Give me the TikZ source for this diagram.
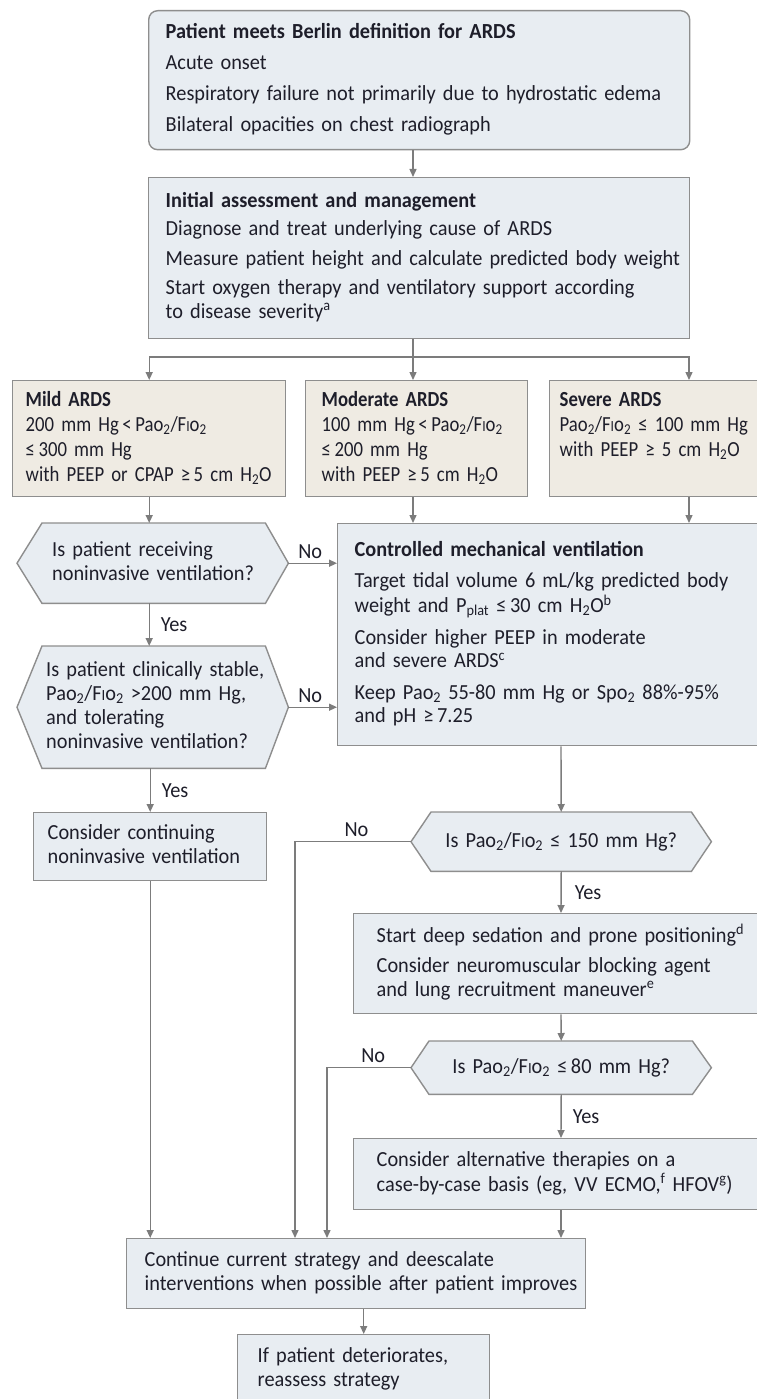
\documentclass[tikz,border=0pt]{standalone}
\usepackage{fontspec}
\setmainfont{Carlito}[FakeStretch=0.945]
\newfontfamily\tanfont{Carlito}[FakeStretch=0.87]
\usetikzlibrary{arrows.meta,backgrounds,calc}
\definecolor{boxfill}{HTML}{E8EDF2}
\definecolor{beige}{HTML}{EFEBE3}
\definecolor{edgegray}{HTML}{8E8E8E}
\definecolor{wiregray}{HTML}{7C7C7C}
\definecolor{ink}{HTML}{1E1E2A}
\newcommand\pao{Pao\textsubscript{2}}
\newcommand\fio{F{\fontsize{15.5}{15.5}\selectfont I}o\textsubscript{2}}
\newcommand\boxlines[1]{\begin{tabular}{@{}l@{}}#1\end{tabular}}
\tikzset{
  base/.style={font=\fontsize{21.5}{23.5}\selectfont, text=ink, align=left,
    anchor=north west, inner ysep=0pt, line width=1.4pt, draw=edgegray},
  bluebox/.style={base, fill=boxfill},
  tanbox/.style={base, fill=beige, font=\tanfont\fontsize{21.5}{25}\selectfont},
  hexnode/.style={font=\fontsize{21.5}{24}\selectfont, text=ink, anchor=north west,
    inner xsep=0pt, inner ysep=0pt},
  hexshape/.style={fill=boxfill, draw=edgegray, line width=1.4pt},
  arr/.style={draw=wiregray, line width=1.4pt, -{Triangle[length=8pt,width=7pt]}},
  wire/.style={draw=wiregray, line width=1.4pt},
  lbl/.style={font=\fontsize{21.5}{23.5}\selectfont, text=ink, inner sep=0pt}
}
\begin{document}
\begin{tikzpicture}[x=1pt,y=-1pt]
\useasboundingbox (0,0) rectangle (757,1399);
\clip (0,0) rectangle (757,1399);
\coordinate (xM) at (413,0);
\coordinate (xR) at (689,0);
\coordinate (xC) at (561,0);
\coordinate (xA) at (295,0);
\coordinate (xB) at (327,0);
\coordinate (br) at (413,357);

\node[bluebox, rounded corners=9pt, minimum width=541pt, minimum height=139pt,
  text width=507pt, inner xsep=17pt] (top) at (148,10)
  {\boxlines{\textbf{Patient meets Berlin definition for ARDS}\\[7.5pt]
   Acute onset\\[7.5pt]
   Respiratory failure not primarily due to hydrostatic edema\\[7.5pt]
   Bilateral opacities on chest radiograph}};

\node[bluebox, minimum width=541pt, minimum height=161pt,
  text width=507pt, inner xsep=17pt] (init) at (148,177)
  {\boxlines{\textbf{Initial assessment and management}\\[5pt]
   Diagnose and treat underlying cause of ARDS\\[6pt]
   Measure patient height and calculate predicted body weight\\[6pt]
   Start oxygen therapy and ventilatory support according\\
   to disease severity\textsuperscript{a}}};

\node[tanbox, minimum width=273pt, minimum height=116pt, text width=247pt, inner xsep=13pt] (mild) at (12,380)
  {\boxlines{\textbf{Mild ARDS}\\
   200 mm Hg\,<\,\pao/\fio\\
   ≤\,300 mm Hg\\
   with PEEP or CPAP ≥\,5 cm H\textsubscript{2}O}};

\node[tanbox, minimum width=222pt, minimum height=116pt, text width=190pt, inner xsep=16pt] (mod) at (305,380)
  {\boxlines{\textbf{Moderate ARDS}\\
   100 mm Hg\,<\,\pao/\fio\\
   ≤\,200 mm Hg\\
   with PEEP ≥\,5 cm H\textsubscript{2}O}};

\node[tanbox, minimum width=260pt, minimum height=116pt, text width=240pt, inner xsep=10pt] (sev) at (549,380)
  {\boxlines{\textbf{Severe ARDS}\\
   \pao/\fio{} ≤ 100 mm Hg\\
   with PEEP ≥ 5 cm H\textsubscript{2}O\\
   \strut}};

\node[hexnode, text width=236pt, minimum height=80pt, align=left] (h1) at (52,523)
  {\boxlines{Is patient receiving\\ noninvasive ventilation?}};

\node[hexnode, text width=242pt, minimum height=122pt, align=left] (h2) at (46,646)
  {\boxlines{Is patient clinically stable,\\ \pao/\fio{} >200 mm Hg,\\ and tolerating\\ noninvasive ventilation?}};

\node[bluebox, minimum height=222pt, text width=420pt, inner xsep=17pt] (cmv) at (337,523)
  {\boxlines{\textbf{Controlled mechanical ventilation}\\[8pt]
   Target tidal volume 6 mL/kg predicted body\\
   weight and P\textsubscript{plat} ≤\,30 cm H\textsubscript{2}O\textsuperscript{b}\\[8pt]
   Consider higher PEEP in moderate\\
   and severe ARDS\textsuperscript{c}\\[8pt]
   Keep \pao{} 55-80 mm Hg or Spo\textsubscript{2} 88\%-95\%\\
   and pH ≥\,7.25}};

\node[bluebox, minimum width=233pt, minimum height=68pt, text width=205pt, inner xsep=14pt] (cons) at (33,812)
  {\boxlines{Consider continuing\\ noninvasive ventilation}};

\node[hexnode, text width=300pt, minimum height=59pt, align=center] (h150) at (411,812)
  {Is \pao/\fio{} ≤ 150 mm Hg?};

\node[bluebox, minimum height=100pt, text width=420pt, inner xsep=23pt] (sed) at (353,913)
  {\boxlines{Start deep sedation and prone positioning\textsuperscript{d}\\[7pt]
   Consider neuromuscular blocking agent\\
   and lung recruitment maneuver\textsuperscript{e}}};

\node[hexnode, text width=300pt, minimum height=53pt, align=center] (h80) at (411,1041)
  {Is \pao/\fio{} ≤\,80 mm Hg?};

\node[bluebox, minimum height=71pt, text width=420pt, inner xsep=23pt] (alt) at (353,1138)
  {\boxlines{Consider alternative therapies on a\\
   case-by-case basis (eg, VV ECMO,\textsuperscript{f} HFOV\textsuperscript{g})}};

\node[bluebox, minimum width=459pt, minimum height=70pt, text width=423pt, inner xsep=18pt] (cont) at (126,1238)
  {\boxlines{Continue current strategy and deescalate\\
   interventions when possible after patient improves}};

\node[bluebox, minimum width=252pt, minimum height=70pt, text width=212pt, inner xsep=20pt] (fin) at (237,1334)
  {\boxlines{If patient deteriorates,\\ reassess strategy}};

% connectors
\draw[arr] (top.south -| xM) -- (init.north -| xM);
\draw[wire] (init.south -| xM) -- (br);
\draw[arr] (br) -| (mild.north);
\draw[arr] (br) -- (mod.north -| xM);
\draw[arr] (br) -| (sev.north -| xR);
\draw[arr] (mild.south) -- (mild.south |- h1.north);
\draw[arr] (mod.south -| xM) -- (cmv.north -| xM);
\draw[arr] (sev.south -| xR) -- (cmv.north -| xR);
\draw[arr] (h1.east) -- node[lbl, above=4pt, pos=0.45] (no1) {No} (h1.east -| cmv.west);
\draw[arr] (mild.south |- h1.south) -- node[lbl, right=11pt] (yes1) {Yes} (mild.south |- h2.north);
\draw[arr] (h2.east) -- node[lbl, above=4pt, pos=0.45] (no2) {No} (h2.east -| cmv.west);
\draw[arr] (cons.north |- h2.south) -- node[lbl, right=11pt] (yes2) {Yes} (cons.north);
\draw[arr] (cmv.south -| xC) -- (h150.north);
\draw[arr] (h150.west) -- node[lbl, above=4pt, pos=0.47] (no3) {No} (h150.west -| xA) -- (xA |- cont.north);
\draw[arr] (h150.south) -- node[lbl, right=13pt] (yes3) {Yes} (sed.north -| xC);
\draw[arr] (sed.south -| xC) -- (h80.north);
\draw[arr] (h80.west) -- node[lbl, above=4pt, pos=0.45] (no4) {No} (h80.west -| xB) -- (xB |- cont.north);
\draw[arr] (h80.south) -- node[lbl, right=11pt] (yes4) {Yes} (alt.north -| xC);
\draw[arr] (alt.south -| xC) -- (cont.north -| xC);
\draw[arr] (cons.south) -- (cons.south |- cont.north);
\draw[arr] (cont.south -| fin.north) -- (fin.north);

\begin{scope}[on background layer]
\fill[white] (0,0) rectangle (757,1399);
\path[hexshape] ([xshift=-35pt]h1.west) -- ([xshift=-10pt]h1.north west) -- ([xshift=-23pt]h1.north east)
  -- (h1.east) -- ([xshift=-23pt]h1.south east) -- ([xshift=-10pt]h1.south west) -- cycle;
\path[hexshape] ([xshift=-29pt]h2.west) -- ([xshift=-4pt]h2.north west) -- ([xshift=-23pt]h2.north east)
  -- (h2.east) -- ([xshift=-23pt]h2.south east) -- ([xshift=-4pt]h2.south west) -- cycle;
\path[hexshape] (h150.west) -- ([xshift=20pt]h150.north west) -- ([xshift=-20pt]h150.north east)
  -- (h150.east) -- ([xshift=-20pt]h150.south east) -- ([xshift=20pt]h150.south west) -- cycle;
\path[hexshape] (h80.west) -- ([xshift=18pt]h80.north west) -- ([xshift=-19pt]h80.north east)
  -- (h80.east) -- ([xshift=-19pt]h80.south east) -- ([xshift=18pt]h80.south west) -- cycle;
\end{scope}
\end{tikzpicture}
\end{document}
